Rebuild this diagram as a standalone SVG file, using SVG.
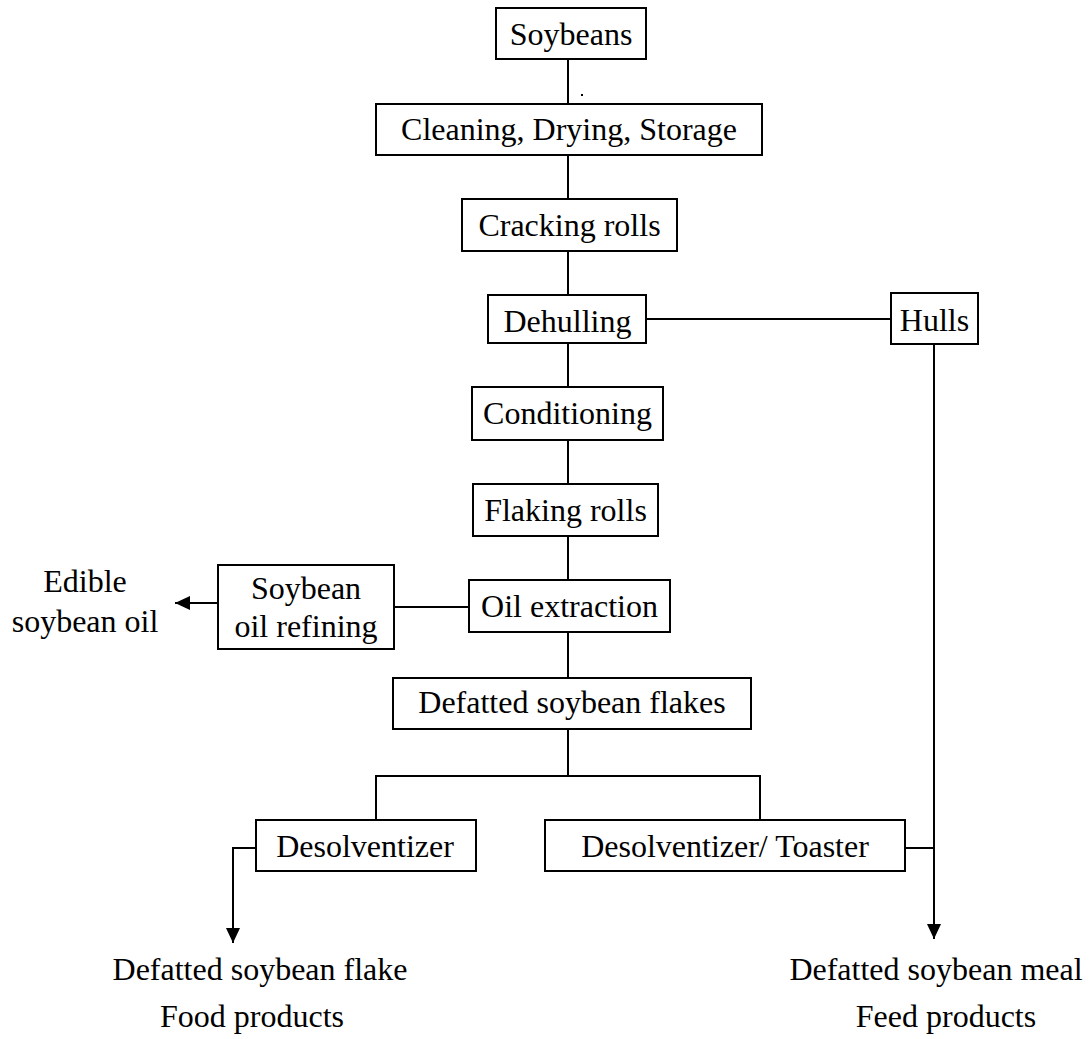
<svg xmlns="http://www.w3.org/2000/svg" width="1091" height="1039" viewBox="0 0 1091 1039">
<style>
  .box { fill: #fff; stroke: #000; stroke-width: 2; }
  .t { font-family: "Liberation Serif", "Times New Roman", serif; font-size: 32px; fill: #000; text-anchor: middle; }
  .c { fill: none; stroke: #000; stroke-width: 2; }
</style>
<defs>
  <marker id="arr" markerUnits="userSpaceOnUse" markerWidth="16" markerHeight="16" refX="15" refY="7" orient="auto">
    <path d="M0,0 L15,7 L0,14 z" fill="#000"/>
  </marker>
</defs>
<rect width="1091" height="1039" fill="#fff"/>
<g id="connectors">
  <path class="c" d="M568,59 V104"/>
  <path class="c" d="M568,155 V199"/>
  <path class="c" d="M568,251 V295"/>
  <path class="c" d="M568,343 V387"/>
  <path class="c" d="M568,440 V484"/>
  <path class="c" d="M568,536 V580"/>
  <path class="c" d="M568,632 V678"/>
  <path class="c" d="M568,729 V776"/>
  <path class="c" d="M646,319 H891"/>
  <path class="c" d="M934,344 V939" marker-end="url(#arr)"/>
  <path class="c" d="M905,848 H934"/>
  <path class="c" d="M469,607 H394"/>
  <path class="c" d="M218,603 H175" marker-end="url(#arr)"/>
  <path class="c" d="M376,820 V776 H760 V820"/>
  <path class="c" d="M256,848 H233 V943" marker-end="url(#arr)"/>
  <rect x="581" y="94" width="2" height="2" fill="#000"/>
</g>
<g id="soybeans"><rect class="box" x="496" y="8" width="150" height="51"/><text class="t" x="571" y="45">Soybeans</text></g>
<g id="cleaning"><rect class="box" x="376" y="104" width="386" height="51"/><text class="t" x="569" y="140">Cleaning, Drying, Storage</text></g>
<g id="cracking"><rect class="box" x="462" y="199" width="215" height="52"/><text class="t" x="569.5" y="236">Cracking rolls</text></g>
<g id="dehulling"><rect class="box" x="488" y="295" width="158" height="48"/><text class="t" x="567.5" y="332">Dehulling</text></g>
<g id="hulls"><rect class="box" x="891" y="293" width="87" height="51"/><text class="t" x="934.5" y="331">Hulls</text></g>
<g id="conditioning"><rect class="box" x="472" y="387" width="191" height="53"/><text class="t" x="567.5" y="424">Conditioning</text></g>
<g id="flaking"><rect class="box" x="473" y="484" width="185" height="52"/><text class="t" x="565.5" y="521">Flaking rolls</text></g>
<g id="oil-extraction"><rect class="box" x="469" y="580" width="201" height="52"/><text class="t" x="569.5" y="617">Oil extraction</text></g>
<g id="refining"><rect class="box" x="218" y="565" width="176" height="84"/><text class="t" x="306" y="599">Soybean</text><text class="t" x="306" y="637">oil refining</text></g>
<g id="edible-oil"><text class="t" x="85" y="592">Edible</text><text class="t" x="85" y="632">soybean oil</text></g>
<g id="defatted-flakes"><rect class="box" x="393" y="678" width="358" height="51"/><text class="t" x="572" y="713">Defatted soybean flakes</text></g>
<g id="desolventizer"><rect class="box" x="256" y="820" width="220" height="51"/><text class="t" x="365" y="857">Desolventizer</text></g>
<g id="desolventizer-toaster"><rect class="box" x="545" y="820" width="360" height="51"/><text class="t" x="725" y="857">Desolventizer/ Toaster</text></g>
<g id="food-out"><text class="t" x="260" y="980">Defatted soybean flake</text><text class="t" x="252" y="1027">Food products</text></g>
<g id="feed-out"><text class="t" x="936" y="980">Defatted soybean meal</text><text class="t" x="946" y="1027">Feed products</text></g>
</svg>
